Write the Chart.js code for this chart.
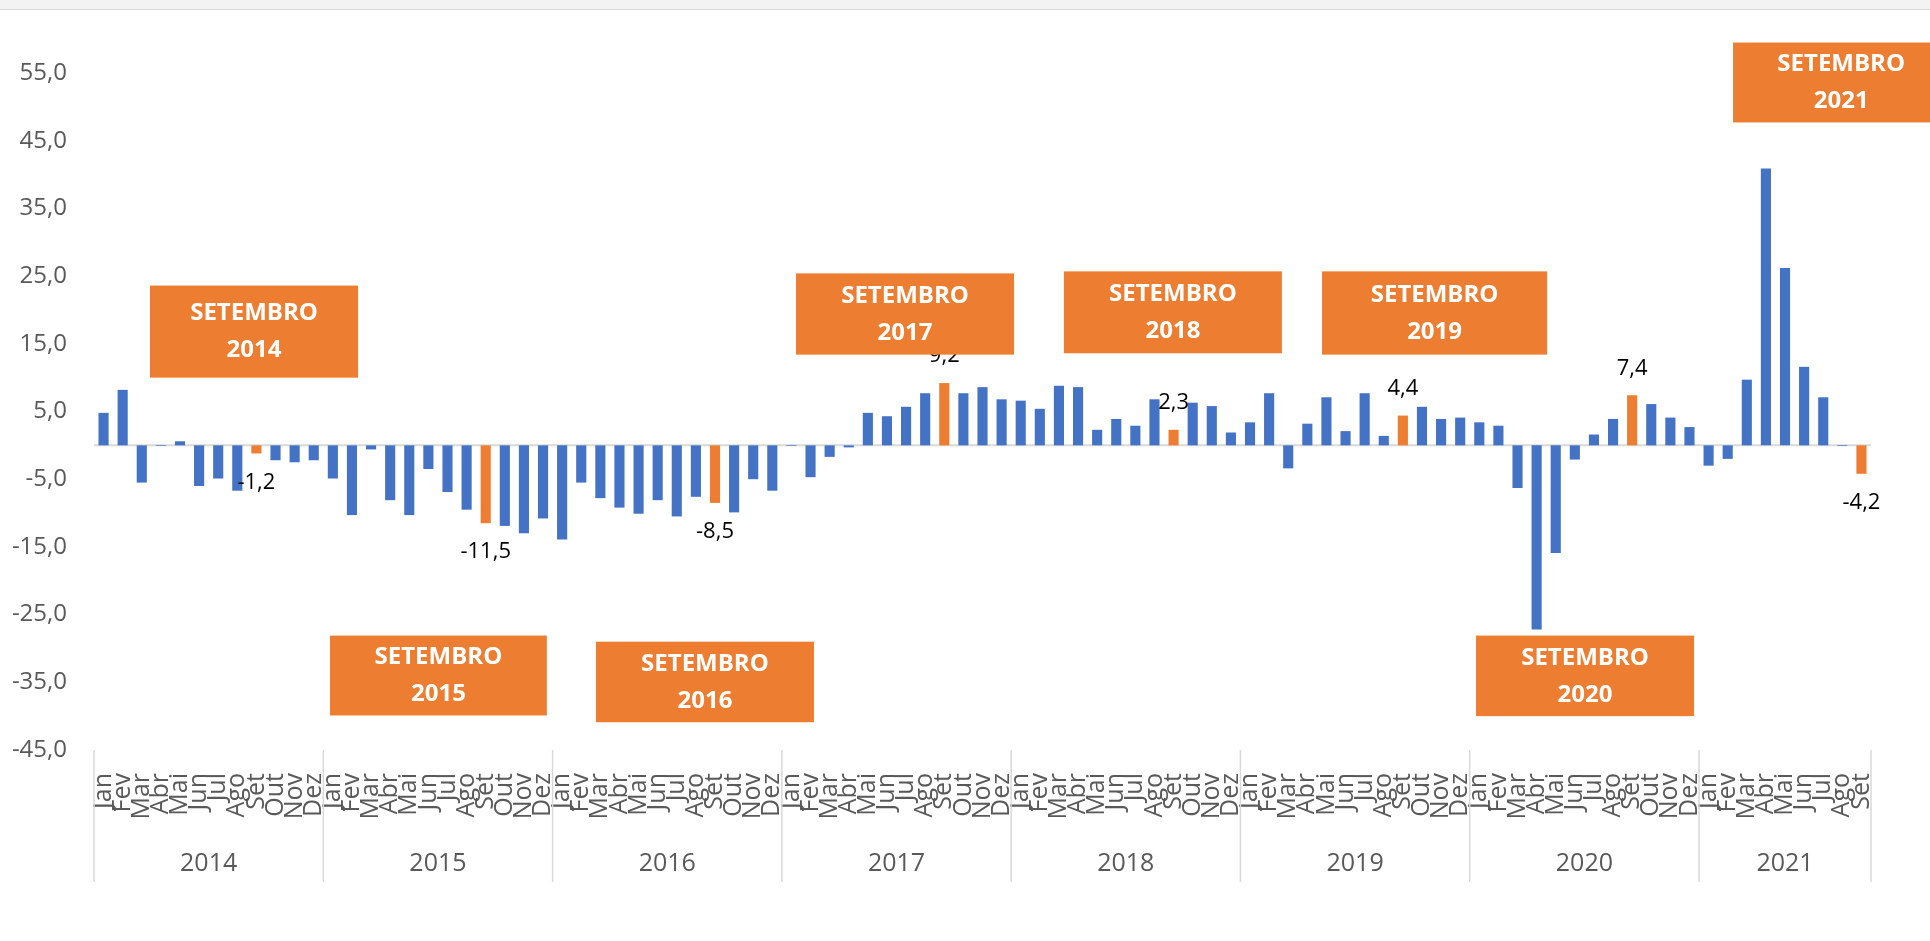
<!DOCTYPE html>
<html lang="pt-BR">
<head>
<meta charset="utf-8">
<title>Variação mensal – destaque Setembro</title>
<script src="https://cdn.jsdelivr.net/npm/chart.js@4.4.1/dist/chart.umd.min.js"></script>
<style>
    html, body { margin: 0; padding: 0; background: #fff; overflow: hidden; }
    .topbar { position: absolute; left: 0; top: 0; width: 1930px; height: 9px; background: #f3f3f3; border-bottom: 1px solid #d9d9d9; }
    .wrap   { position: absolute; left: 0; top: 0; width: 1930px; height: 941px; }
</style>
</head>
<body>
<div class="topbar"></div>
<div class="wrap"><canvas id="chart"></canvas></div>

<script>
/* ── Data ── */
const months = ['Jan', 'Fev', 'Mar', 'Abr', 'Mai', 'Jun', 'Jul', 'Ago', 'Set', 'Out', 'Nov', 'Dez'];
const years  = ['2014', '2015', '2016', '2017', '2018', '2019', '2020', '2021'];
const monthsPerYear = [12, 12, 12, 12, 12, 12, 12, 9];

const v2014 = [4.8, 8.2, -5.5, -0.1, 0.6, -6.0, -4.9, -6.7, -1.2, -2.2, -2.5, -2.2];
const v2015 = [-4.9, -10.3, -0.6, -8.1, -10.3, -3.5, -6.9, -9.5, -11.5, -11.9, -13.0, -10.8];
const v2016 = [-13.9, -5.5, -7.8, -9.2, -10.1, -8.1, -10.5, -7.6, -8.5, -9.9, -5.0, -6.7];
const v2017 = [-0.1, -4.7, -1.7, -0.3, 4.8, 4.3, 5.7, 7.7, 9.2, 7.7, 8.6, 6.8];
const v2018 = [6.6, 5.4, 8.8, 8.6, 2.3, 3.9, 2.9, 6.8, 2.3, 6.3, 5.8, 1.9];
const v2019 = [3.4, 7.7, -3.4, 3.2, 7.1, 2.1, 7.7, 1.4, 4.4, 5.7, 3.9, 4.1];
const v2020 = [3.4, 2.9, -6.3, -27.2, -15.9, -2.1, 1.6, 3.9, 7.4, 6.1, 4.1, 2.7];
const v2021 = [-3.0, -2.0, 9.7, 40.9, 26.2, 11.6, 7.1, -0.1, -4.2];

const yTicks = [-45, -35, -25, -15, -5, 5, 15, 25, 35, 45, 55];
const highlightMonth = 'Set';

// callout boxes, placed in chart units (category index / value)
const callouts = [
    { lines: ['SETEMBRO', '2014'], x: [2.43, 13.32],  y: [23.6, 10.0] },
    { lines: ['SETEMBRO', '2015'], x: [11.85, 23.2],  y: [-28.1, -39.9] },
    { lines: ['SETEMBRO', '2016'], x: [25.77, 37.18], y: [-29.0, -40.9] },
    { lines: ['SETEMBRO', '2017'], x: [36.24, 47.65], y: [25.4, 13.4] },
    { lines: ['SETEMBRO', '2018'], x: [50.26, 61.67], y: [25.7, 13.6] },
    { lines: ['SETEMBRO', '2019'], x: [63.77, 75.55], y: [25.7, 13.4] },
    { lines: ['SETEMBRO', '2020'], x: [71.83, 83.24], y: [-28.1, -40.0] },
    { lines: ['SETEMBRO', '2021'], x: [85.28, 96.6],  y: [59.5, 47.7] },
];

/* ── Build series ── */
const values = [].concat(v2014, v2015, v2016, v2017, v2018, v2019, v2020, v2021);
const labels = [];
years.forEach((y, i) => {
    for (let m = 0; m < monthsPerYear[i]; m++) labels.push(months[m]);
});

const FONT   = "'Open Sans', 'Liberation Sans', sans-serif";
const BLUE   = '#4472C4';
const ORANGE = '#ED7D31';
const GREY   = '#595959';
const LINE   = '#d9d9d9';

const fmt = v => v.toFixed(1).replace('.', ',');

/* ── Plugins ── */
const zeroLine = {
    id: 'zeroLine',
    beforeDatasetsDraw(chart) {
        const { ctx, chartArea, scales } = chart;
        const y = scales.y.getPixelForValue(0);
        ctx.save();
        ctx.strokeStyle = LINE;
        ctx.lineWidth = 2;
        ctx.beginPath();
        ctx.moveTo(chartArea.left, y);
        ctx.lineTo(chartArea.right, y);
        ctx.stroke();
        ctx.restore();
    }
};

const yearAxis = {
    id: 'yearAxis',
    afterDraw(chart) {
        const { ctx, chartArea, scales } = chart;
        const x = scales.x;
        const half = (x.getPixelForValue(1) - x.getPixelForValue(0)) / 2;
        const top = chartArea.bottom, bottom = chartArea.bottom + 132;
        ctx.save();
        ctx.strokeStyle = LINE;
        ctx.lineWidth = 1.5;
        ctx.fillStyle = GREY;
        ctx.font = '25px ' + FONT;
        ctx.textAlign = 'center';
        ctx.textBaseline = 'middle';
        let start = 0;
        years.forEach((yr, i) => {
            const end = start + monthsPerYear[i] - 1;
            const x0 = x.getPixelForValue(start) - half;
            const x1 = x.getPixelForValue(end) + half;
            ctx.beginPath();
            ctx.moveTo(x0, top); ctx.lineTo(x0, bottom);
            ctx.stroke();
            ctx.fillText(yr, (x0 + x1) / 2, chartArea.bottom + 114);
            start = end + 1;
        });
        const xr = x.getPixelForValue(labels.length - 1) + half;
        ctx.beginPath();
        ctx.moveTo(xr, top); ctx.lineTo(xr, bottom);
        ctx.stroke();
        ctx.restore();
    }
};

const setLabels = {
    id: 'setLabels',
    afterDatasetsDraw(chart) {
        const { ctx } = chart;
        const meta = chart.getDatasetMeta(0);
        ctx.save();
        ctx.fillStyle = '#000';
        ctx.font = '22px ' + FONT;
        ctx.textAlign = 'center';
        ctx.textBaseline = 'middle';
        labels.forEach((m, i) => {
            if (m !== highlightMonth) return;
            const bar = meta.data[i];
            const v = values[i];
            const y = v >= 0 ? bar.y - 27 : bar.y + 29;
            ctx.fillText(fmt(v), bar.x, y);
        });
        ctx.restore();
    }
};

const calloutBoxes = {
    id: 'calloutBoxes',
    afterDraw(chart) {
        const { ctx, scales } = chart;
        ctx.save();
        ctx.font = 'bold 24px ' + FONT;
        ctx.textAlign = 'center';
        ctx.textBaseline = 'middle';
        callouts.forEach(c => {
            const x0 = scales.x.getPixelForValue(c.x[0]);
            const x1 = scales.x.getPixelForValue(c.x[1]);
            const y0 = scales.y.getPixelForValue(c.y[0]);
            const y1 = scales.y.getPixelForValue(c.y[1]);
            ctx.fillStyle = ORANGE;
            ctx.fillRect(x0, y0, x1 - x0, y1 - y0);
            const cx = (x0 + x1) / 2, cy = (y0 + y1) / 2;
            ctx.fillStyle = '#fff';
            ctx.fillText(c.lines[0], cx, cy - 18);
            ctx.fillText(c.lines[1], cx, cy + 19);
        });
        ctx.restore();
    }
};

/* ── Chart ── */
new Chart(document.getElementById('chart'), {
    type: 'bar',
    data: {
        labels: labels,
        datasets: [{
            data: values,
            backgroundColor: labels.map(m => m === highlightMonth ? ORANGE : BLUE),
            borderWidth: 0,
            barPercentage: 0.53,
            categoryPercentage: 1.0,
        }]
    },
    options: {
        responsive: true, maintainAspectRatio: false, animation: false,
        layout: { padding: { top: 73, right: 59, bottom: 0, left: 0 } },
        plugins: { legend: { display: false }, tooltip: { enabled: false } },
        scales: {
            x: {
                grid: { display: false, drawTicks: false, tickLength: 0 },
                border: { display: false },
                ticks: {
                    autoSkip: false, minRotation: 90, maxRotation: 90, padding: 23,
                    color: GREY, font: { family: FONT, size: 25 }
                },
                afterFit: s => { s.height = 191; }
            },
            y: {
                min: -45, max: 55,
                grid: { display: false, drawTicks: false, tickLength: 0 },
                border: { display: false },
                afterBuildTicks: s => { s.ticks = yTicks.map(v => ({ value: v })); },
                ticks: {
                    padding: 27, color: GREY, font: { family: FONT, size: 24 },
                    callback: v => fmt(v)
                },
                afterFit: s => { s.width = 94; }
            }
        }
    },
    plugins: [zeroLine, setLabels, yearAxis, calloutBoxes]
});
</script>
</body>
</html>
